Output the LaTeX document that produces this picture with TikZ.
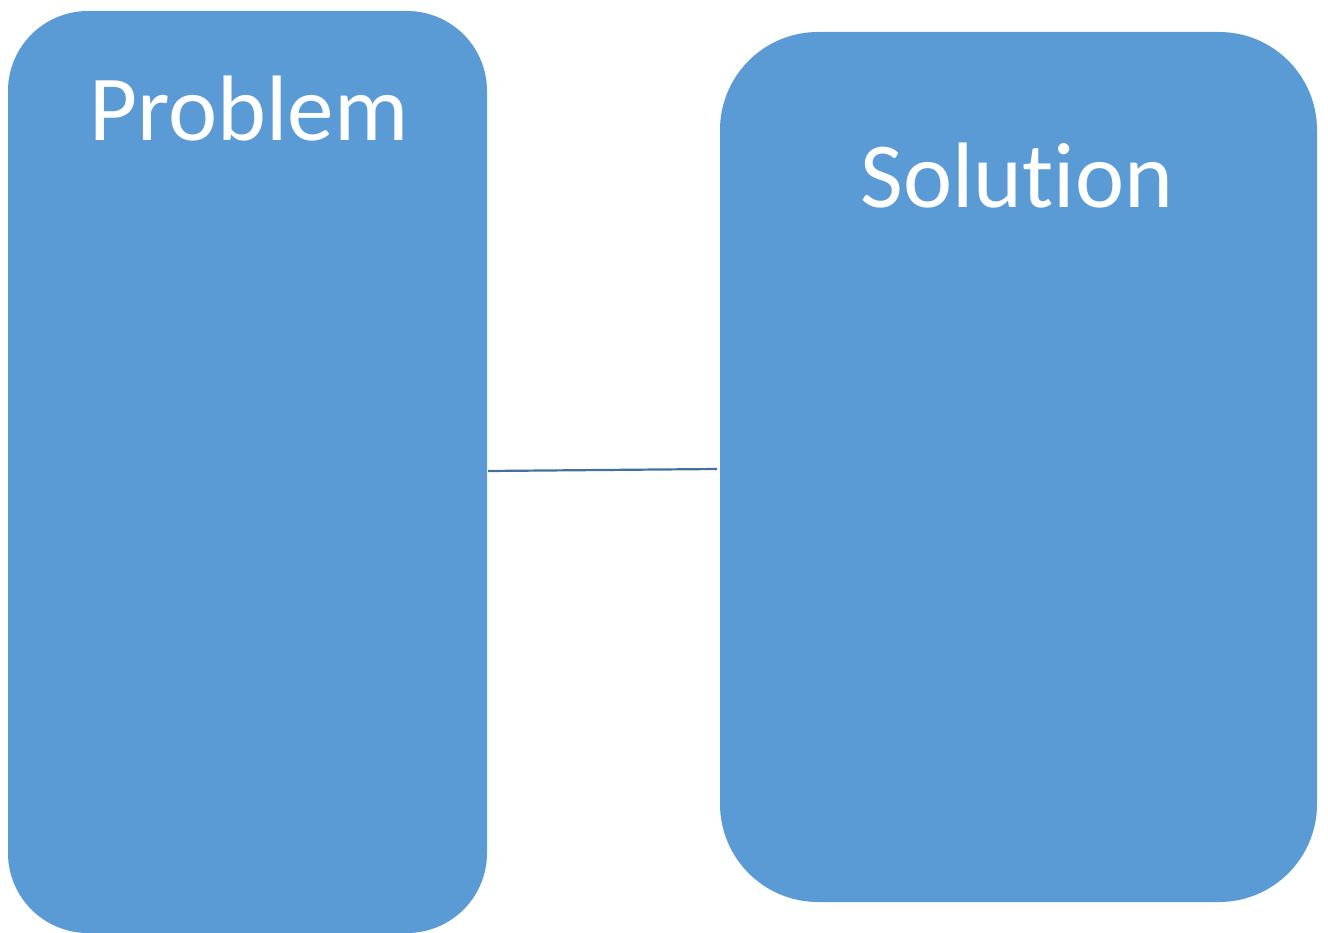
\documentclass[tikz,border=0pt]{standalone}
\usepackage{fontspec}
\setmainfont{Carlito}[Ligatures={NoCommon,NoRare}]
\definecolor{boxblue}{HTML}{5B9BD5}
\definecolor{lineblue}{HTML}{41719C}
\begin{document}
\begin{tikzpicture}[x=1pt,y=-1pt,
  panel/.style={fill=boxblue, draw=none},
  title/.style={anchor=base, text=white, font=\fontsize{93}{110}\selectfont, inner sep=0pt}]
\useasboundingbox (0,0) rectangle (1328,933);
\path[panel, rounded corners=80pt] (8,11) rectangle (487,933);
\node[inner sep=0pt, minimum size=0pt] (p) at (247.5,472) {};
\path[panel, rounded corners=98pt] (720,32) rectangle (1317,902);
\node[inner sep=0pt, minimum size=0pt] (s) at (1018.5,467) {};
\coordinate (pe) at (488,471);
\coordinate (se) at (717,469);
\draw[lineblue, line width=2.2pt] (pe) -- (se);
\node[title] (pt) at (249,141) {Problem};
\node[title] (st) at (1017,208) {Solu{}t{}ion};
\end{tikzpicture}
\end{document}
